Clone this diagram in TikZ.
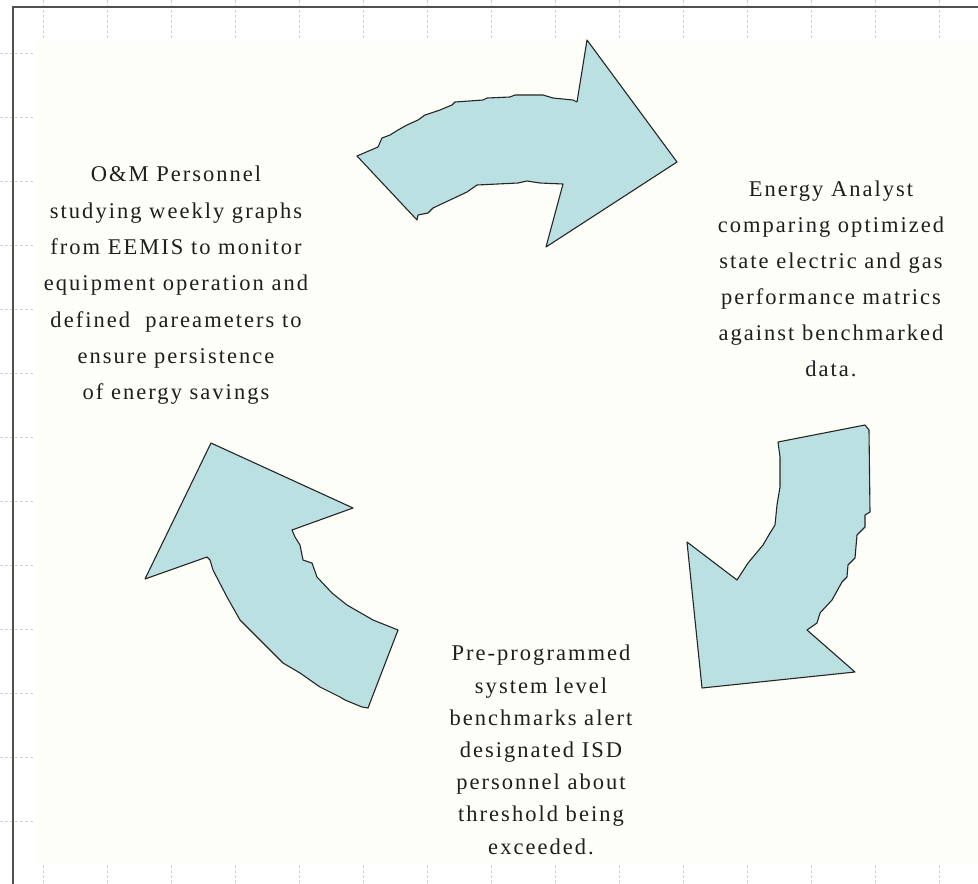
\documentclass[tikz,border=0pt]{standalone}
\usepackage{fontspec}
\newfontfamily\reffont[LetterSpace=9]{Liberation Serif}
\definecolor{cream}{RGB}{254,254,248}
\definecolor{framegray}{RGB}{80,80,80}
\definecolor{gridblue}{RGB}{196,208,245}
\definecolor{arrowfill}{RGB}{187,224,226}
\definecolor{txt}{RGB}{30,30,30}
\tikzset{
  tick/.style={gridblue, line width=0.8pt, dash pattern=on 3pt off 2pt},
  arrowshape/.style={fill=arrowfill, draw=black!85, line width=1.1pt, line join=round},
  label/.style={align=center, inner sep=0pt, anchor=north, text=txt,
    font=\reffont\fontsize{22.5}{36.3}\selectfont},
}
\begin{document}
\begin{tikzpicture}[x=1pt,y=-1pt]
\useasboundingbox (0,0) rectangle (978,884);
% background
\fill[cream] (35,40) rectangle (978,864);
% grid ticks
\foreach \k in {0,...,14} {
  \draw[tick] ({43+64*\k},0) -- ({43+64*\k},39);
  \draw[tick] ({43+64*\k},865) -- ({43+64*\k},884);
}
\foreach \k in {0,...,12} {
  \draw[tick] (0,{53.5+64*\k}) -- (34,{53.5+64*\k});
}
% frame
\draw[framegray, line width=2pt] (12.5,884) -- (12.5,6.7) -- (978,6.7);
% top arrow
\draw[arrowshape] (357,156) -- (378,147) -- (382,138) -- (390,135) -- (398,130) -- (407,125)
  -- (418,120) -- (425,115) -- (440,110) -- (452,105) -- (455,102) -- (483,100) -- (487,98)
  -- (510,97) -- (515,95) -- (543,95) -- (553,98) -- (573,100) -- (577,102) -- (587,40)
  -- (677,162) -- (546,247) -- (563,184) -- (540,183) -- (527,181) -- (518,183) -- (477,185)
  -- (467,192) -- (450,200) -- (433,208) -- (428,213) -- (418,215) -- (417,220) -- cycle;
% right arrow
\draw[arrowshape] (778,442) -- (865,425) -- (869,430) -- (870,512) -- (865,515) -- (865,527)
  -- (857,535) -- (855,558) -- (848,565) -- (847,577) -- (842,582) -- (832,600) -- (820,613)
  -- (817,623) -- (807,630) -- (855,672) -- (702,688) -- (687,542) -- (737,580) -- (748,563)
  -- (763,545) -- (770,533) -- (775,525) -- (777,505) -- (780,487) -- (780,457) -- cycle;
% left arrow
\draw[arrowshape] (211,443) -- (353,508) -- (292,530) -- (295,537) -- (300,545) -- (303,560)
  -- (312,563) -- (317,577) -- (332,593) -- (347,605) -- (373,620) -- (398,630) -- (368,708)
  -- (362,707) -- (345,700) -- (340,697) -- (320,687) -- (300,673) -- (283,663) -- (270,650)
  -- (250,630) -- (240,620) -- (227,597) -- (213,570) -- (210,560) -- (207,557) -- (145,579) -- cycle;
% texts
\node[label] (om) at (176,166) {O\&M Personnel\\studying weekly graphs\\from EEMIS to monitor\\equipment operation and\\defined\ \ pareameters to\\ensure persistence\\of energy savings};
\node[label, font=\reffont\fontsize{22.5}{36}\selectfont] (ea) at (831,181) {Energy Analyst\\comparing optimized\\state electric and gas\\performance matrics\\against benchmarked\\data.};
\node[label, font=\reffont\fontsize{22.5}{32.2}\selectfont] (pp) at (541,645) {Pre-programmed\\system level\\benchmarks alert\\designated ISD\\personnel about\\threshold being\\exceeded.};
\end{tikzpicture}
\end{document}
